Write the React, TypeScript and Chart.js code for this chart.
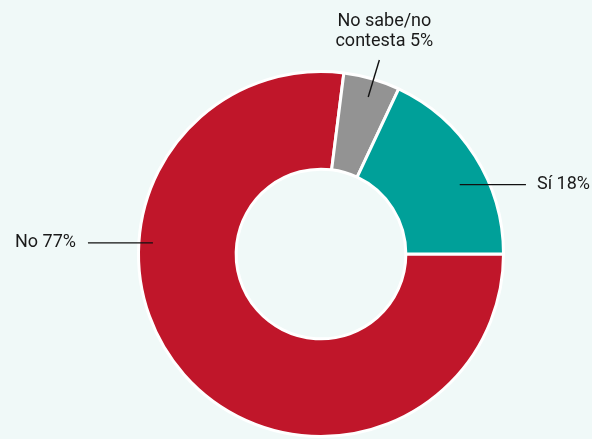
import React, { useEffect, useRef } from "react";
import { Chart, registerables } from "chart.js";

Chart.register(...registerables);

const categories = ["No", "No sabe/no contesta", "Sí"];
const values = [77, 5, 18];
const labelLines = [["No 77%"], ["No sabe/no", "contesta 5%"], ["Sí 18%"]];
const sliceColors = ["#c0162a", "#939393", "#00a099"];

const BG = "#f0f9f8";
const FONT = "18px Roboto, 'Noto Sans', sans-serif";

// callout geometry (fractions of the arc / radius), styling only
const callouts = [
  { frac: 0.663, r0: 0.923, mode: "h", endX: -1.277, gap: 12 },
  { frac: 0.53, r0: 0.898, mode: "radial", r1: 1.11 },
  { frac: 0.59, r0: 0.85, mode: "h", endX: 1.123, gap: 11 },
];

const calloutPlugin = {
  id: "callouts",
  afterDatasetsDraw(chart: any) {
    const ctx = chart.ctx;
    const meta = chart.getDatasetMeta(0);
    ctx.save();
    ctx.strokeStyle = "#111";
    ctx.lineWidth = 1.4;
    ctx.fillStyle = "#1a1a1a";
    ctx.font = FONT;
    meta.data.forEach((arc: any, i: number) => {
      const p = arc.getProps(["x", "y", "startAngle", "endAngle", "outerRadius"], true);
      const cfg: any = callouts[i];
      const a = p.startAngle + (p.endAngle - p.startAngle) * cfg.frac;
      const R = p.outerRadius;
      const sx = p.x + Math.cos(a) * R * cfg.r0;
      const sy = p.y + Math.sin(a) * R * cfg.r0;
      let ex: number, ey: number;
      if (cfg.mode === "radial") {
        ex = p.x + Math.cos(a) * R * cfg.r1;
        ey = p.y + Math.sin(a) * R * cfg.r1;
      } else {
        ex = p.x + cfg.endX * R;
        ey = sy;
      }
      ctx.beginPath();
      ctx.moveTo(sx, sy);
      ctx.lineTo(ex, ey);
      ctx.stroke();
      const lines = labelLines[i];
      if (cfg.mode === "radial") {
        ctx.textAlign = "center";
        ctx.textBaseline = "middle";
        const n = lines.length;
        lines.forEach((t, k) => {
          ctx.fillText(t, ex + 5, ey - 19 - (n - 1 - k) * 20);
        });
      } else {
        ctx.textBaseline = "middle";
        if (cfg.endX < 0) {
          ctx.textAlign = "right";
          ctx.fillText(lines[0], ex - cfg.gap, ey);
        } else {
          ctx.textAlign = "left";
          ctx.fillText(lines[0], ex + cfg.gap, ey);
        }
      }
    });
    ctx.restore();
  },
};

const bgPlugin = {
  id: "bg",
  beforeDraw(chart: any) {
    const ctx = chart.ctx;
    ctx.save();
    ctx.fillStyle = BG;
    ctx.fillRect(0, 0, chart.width, chart.height);
    ctx.restore();
  },
};

export default function App() {
  const ref = useRef<HTMLCanvasElement | null>(null);
  useEffect(() => {
    if (!ref.current) return;
    const chart = new Chart(ref.current, {
      type: "doughnut",
      data: {
        labels: categories,
        datasets: [
          {
            data: values,
            backgroundColor: sliceColors,
            borderColor: "#ffffff",
            borderWidth: 3,
            hoverOffset: 0,
          },
        ],
      },
      options: {
        responsive: false,
        animation: false,
        rotation: 90,
        cutout: "46.5%",
        layout: { padding: { left: 137, top: 70, right: 87, bottom: 1 } },
        plugins: {
          legend: { display: false },
          tooltip: { enabled: false },
        },
      },
      plugins: [bgPlugin, calloutPlugin],
    });
    return () => chart.destroy();
  }, []);
  return (
    <div style={{ position: "fixed", left: 0, top: 0, width: 592, height: 439, background: BG }}>
      <canvas ref={ref} width={592} height={439} style={{ display: "block" }} />
    </div>
  );
}
